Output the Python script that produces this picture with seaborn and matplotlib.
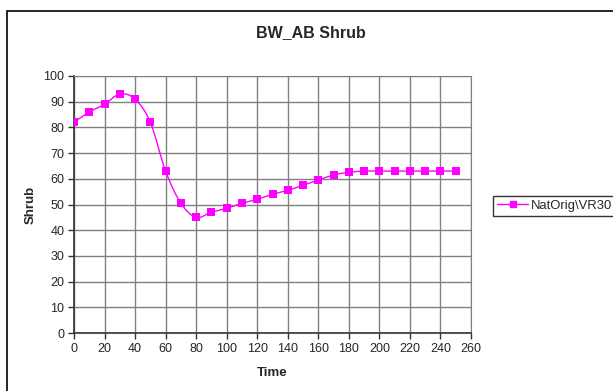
import numpy as np
import pandas as pd
import matplotlib
matplotlib.use('Agg')
import matplotlib.pyplot as plt
from matplotlib.path import Path
from matplotlib.patches import PathPatch, Rectangle
from matplotlib.lines import Line2D
import seaborn as sns

# ==== Data ====
time = [0, 10, 20, 30, 40, 50, 60, 70, 80, 90, 100, 110, 120, 130, 140,
        150, 160, 170, 180, 190, 200, 210, 220, 230, 240, 250]
shrub = [82, 86, 89, 93, 91, 82, 63, 50.5, 45, 47, 48.5, 50.5, 52, 54, 55.5,
         57.5, 59.5, 61.5, 62.5, 63, 63, 63, 63, 63, 63, 63]
series_name = "NatOrig\\VR30"

df = pd.DataFrame({"Time": time, "Shrub": shrub})

sns.set_style("white")
plt.rcParams["font.family"] = ["Liberation Sans", "DejaVu Sans"]

color = "#FF00FF"

fig = plt.figure(figsize=(6.13, 3.91), dpi=100)
ax = fig.add_axes([74 / 613, 1 - 333 / 391, (471 - 74) / 613, (333 - 76) / 391])

# Smoothed line (Catmull-Rom to bezier, like Excel smoothing)
x = np.array(time, dtype=float)
y = np.array(shrub, dtype=float)
verts = [(x[0], y[0])]
codes = [Path.MOVETO]
for i in range(len(x) - 1):
    p0 = np.array([x[max(i - 1, 0)], y[max(i - 1, 0)]])
    p1 = np.array([x[i], y[i]])
    p2 = np.array([x[i + 1], y[i + 1]])
    p3 = np.array([x[min(i + 2, len(x) - 1)], y[min(i + 2, len(x) - 1)]])
    c1 = p1 + (p2 - p0) / 6
    c2 = p2 - (p3 - p1) / 6
    verts += [tuple(c1), tuple(c2), tuple(p2)]
    codes += [Path.CURVE4] * 3
ax.add_patch(PathPatch(Path(verts, codes), fill=False, edgecolor=color, lw=1, zorder=3))

sns.scatterplot(data=df, x="Time", y="Shrub", marker="s", s=30, color=color,
                edgecolor=color, linewidth=0, ax=ax, zorder=4, legend=False)

ax.set_xlim(0, 260)
ax.set_ylim(0, 100)
ax.set_xticks(range(0, 261, 20))
ax.set_yticks(range(0, 101, 10))
ax.grid(True, color="#808080", lw=1)
ax.set_axisbelow(True)
for side in ["top", "right"]:
    ax.spines[side].set_color("#808080")
for side in ["left", "bottom"]:
    ax.spines[side].set_color("#333333")
    ax.spines[side].set_linewidth(1.2)
ax.tick_params(axis="both", direction="out", length=4, width=1, color="#333333",
               labelsize=9, pad=3, left=True, bottom=True)

ax.set_xlabel("Time", fontsize=9.5, fontweight="bold", labelpad=9)
ax.set_ylabel("Shrub", fontsize=9.5, fontweight="bold", labelpad=5)
fig.text(311 / 613, 1 - 33 / 391, "BW_AB Shrub", ha="center",
         va="center", fontsize=11.5, fontweight="bold")

handle = Line2D([], [], color=color, marker="s", markersize=5, lw=1)
fig.legend([handle], [series_name], loc="center left",
           bbox_to_anchor=(493 / 613, 1 - 206 / 391), frameon=True, fancybox=False,
           edgecolor="black", fontsize=9.4, handlelength=2.4, borderpad=0.3,
           handletextpad=0.2, borderaxespad=0)

# outer chart frame
fig.patches.append(Rectangle((6.5 / 613, -0.1), 1.2, 1 - 10.5 / 391 + 0.1,
                             transform=fig.transFigure, fill=False,
                             edgecolor="black", lw=1.2))

plt.savefig("out.png", dpi=100)
plt.close()
